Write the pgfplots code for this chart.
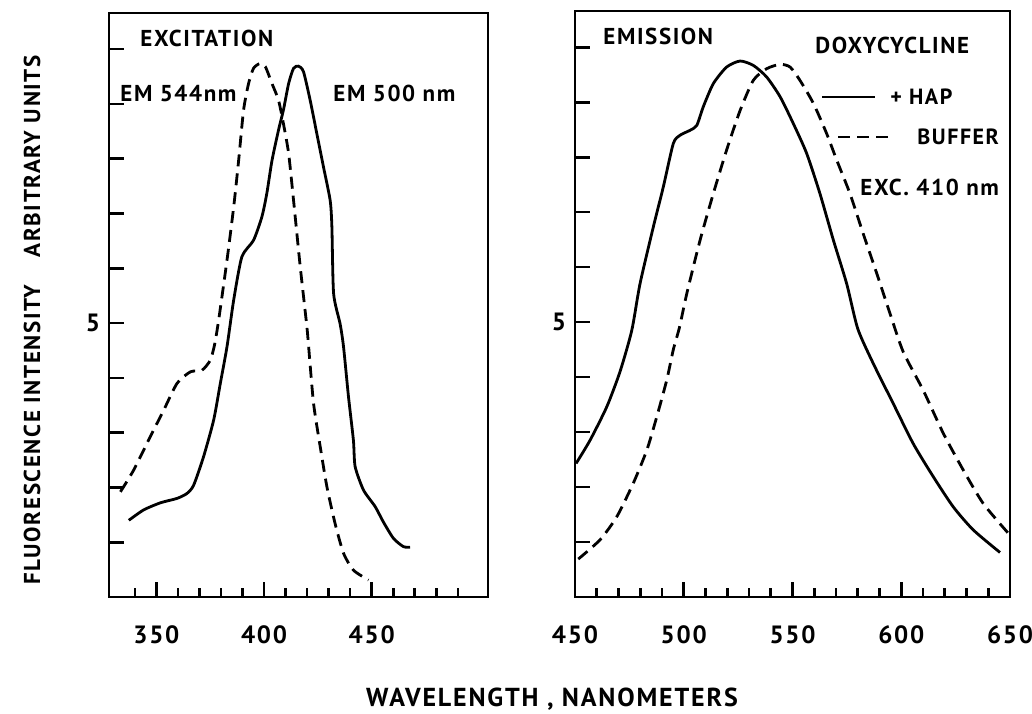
\documentclass[border=0pt]{standalone}
\usepackage{fontspec}
\setmainfont{PT Sans}[LetterSpace=7]
\usepackage{pgfplots}
\pgfplotsset{compat=1.18}
\usepackage{pgfplotstable}

\pgfplotstableread{
x y
337.2 1.40
344.1 1.59
351.9 1.72
359.6 1.80
364.2 1.89
367.3 2.04
371.9 2.56
376.6 3.23
379.7 3.90
382.8 4.57
385.9 5.42
389.7 6.21
395.1 6.51
399.0 6.94
401.3 7.37
403.7 7.97
406.7 8.52
409.0 8.89
411.4 9.37
413.7 9.65
416.0 9.69
418.3 9.59
421.4 9.07
424.5 8.46
427.6 7.85
430.7 7.24
431.5 6.76
432.3 5.54
435.3 4.99
436.9 4.57
439.2 3.66
441.5 2.86
442.3 2.38
446.2 1.95
451.6 1.65
455.4 1.37
460.1 1.07
464.7 0.92
467.8 0.91
}\exsolid

\pgfplotstableread{
x y
333.3 1.92
339.5 2.32
347.2 2.93
353.4 3.41
359.6 3.90
365.8 4.11
371.2 4.14
375.0 4.32
377.0 4.60
378.9 5.05
382.8 6.15
385.9 7.12
388.2 7.97
390.5 8.89
392.8 9.37
395.1 9.65
398.2 9.74
400.6 9.68
403.7 9.37
406.7 9.07
409.0 8.64
411.4 8.10
413.7 7.24
416.8 6.03
419.9 4.93
420.7 4.57
423.0 3.53
426.1 2.74
429.2 2.01
433.0 1.34
436.9 0.80
441.5 0.49
448.5 0.31
}\exdashed

\pgfplotstableread{
x y
450.5 2.43
456.9 2.85
464.6 3.46
470.7 4.10
476.1 4.85
479.9 5.70
486.0 6.73
490.6 7.46
495.2 8.25
498.3 8.40
502.9 8.49
506.0 8.58
509.0 8.92
513.6 9.34
519.7 9.64
525.9 9.75
532.0 9.67
538.1 9.46
544.3 9.10
550.4 8.61
556.5 8.07
562.6 7.34
568.8 6.49
574.9 5.70
580.0 4.88
587.1 4.25
596.3 3.52
605.5 2.79
614.7 2.19
623.9 1.64
633.1 1.22
645.4 0.81
}\emsolid

\pgfplotstableread{
x y
451.5 0.69
461.5 1.04
469.2 1.46
476.8 2.07
483.0 2.67
487.6 3.28
492.2 3.95
495.2 4.50
498.0 4.90
501.4 5.52
507.5 6.49
513.6 7.34
519.7 8.13
525.9 8.85
532.0 9.40
538.1 9.61
544.3 9.69
548.9 9.64
553.4 9.40
559.6 8.98
565.7 8.43
570.3 7.95
576.4 7.34
582.5 6.61
588.7 5.89
594.8 5.16
600.9 4.46
610.1 3.76
619.3 2.98
628.5 2.31
637.7 1.70
649.2 1.16
}\emdashed

\pgfplotsset{
  panel/.style={
    scale only axis,
    anchor=south west,
    ymin=0, ymax=10.66,
    ytick={1,2,3,4,5,6,7,8,9,10},
    yticklabels={,,,,5,,,,,},
    tick align=inside,
    tick pos=left,
    major tick length=7.5pt,
    minor tick length=4.5pt,
    axis line style={line width=1.3pt},
    every tick/.style={line width=1.3pt, black},
    ticklabel style={font=\fontsize{12.5}{14}\selectfont\bfseries},
    /pgf/number format/assume math mode=true,
    xticklabel style={yshift=-11pt},
    yticklabel style={xshift=-1pt},
  },
  curve/.style={black, line width=1.4pt, smooth, tension=0.4},
  dcurve/.style={black, line width=1.4pt, smooth, tension=0.4, dash pattern=on 6pt off 3.5pt},
}

\begin{document}
\bfseries
\begin{tikzpicture}[x=1pt,y=1pt]
\useasboundingbox (0,0) rectangle (516,356.5);

\begin{axis}[panel,
  at={(54.5pt,58pt)}, width=189.5pt, height=292pt,
  xmin=328, xmax=504,
  xtick={350,400,450},
  minor xtick={340,360,370,380,390,410,420,430,440,460,470,480,490},
]
\addplot[curve] table {\exsolid};
\addplot[dcurve] table {\exdashed};
\end{axis}

\begin{axis}[panel,
  at={(287.5pt,58pt)}, width=217.5pt, height=293pt,
  xmin=450, xmax=650,
  xtick={450,500,550,600,650},
  minor xtick={460,470,480,490,510,520,530,540,560,570,580,590,610,620,630,640},
]
\addplot[curve] table {\emsolid};
\addplot[dcurve] table {\emdashed};
\end{axis}

% legend keys
\draw[black, line width=1.4pt] (411,308) -- (437.5,308);
\draw[black, line width=1.4pt, dash pattern=on 6pt off 3.5pt] (419,288) -- (447,288);

\begin{scope}[every node/.style={inner sep=0pt, anchor=west, font=\fontsize{11.5}{13}\selectfont\bfseries}]
\node at (70,337.5) {EXCITATION};
\node at (60,309.5) {EM 544nm};
\node at (166.5,310) {EM 500 nm};
\node at (301.5,338.5) {EMISSION};
\node at (407.5,334) {DOXYCYCLINE};
\node at (430,263) {EXC. 410 nm};
\node[font=\fontsize{11}{13}\selectfont\bfseries] at (445,308) {+ HAP};
\node[font=\fontsize{11}{13}\selectfont\bfseries] at (458.5,288) {BUFFER};
\end{scope}

\node[inner sep=0pt, font=\fontsize{13}{15}\selectfont\bfseries] at (276,7) {WAVELENGTH , NANOMETERS};
\node[inner sep=0pt, rotate=90, font=\fontsize{11.5}{13}\selectfont\bfseries] at (16,196.5) {FLUORESCENCE INTENSITY\hspace{1.2em}ARBITRARY UNITS};
\end{tikzpicture}
\end{document}
